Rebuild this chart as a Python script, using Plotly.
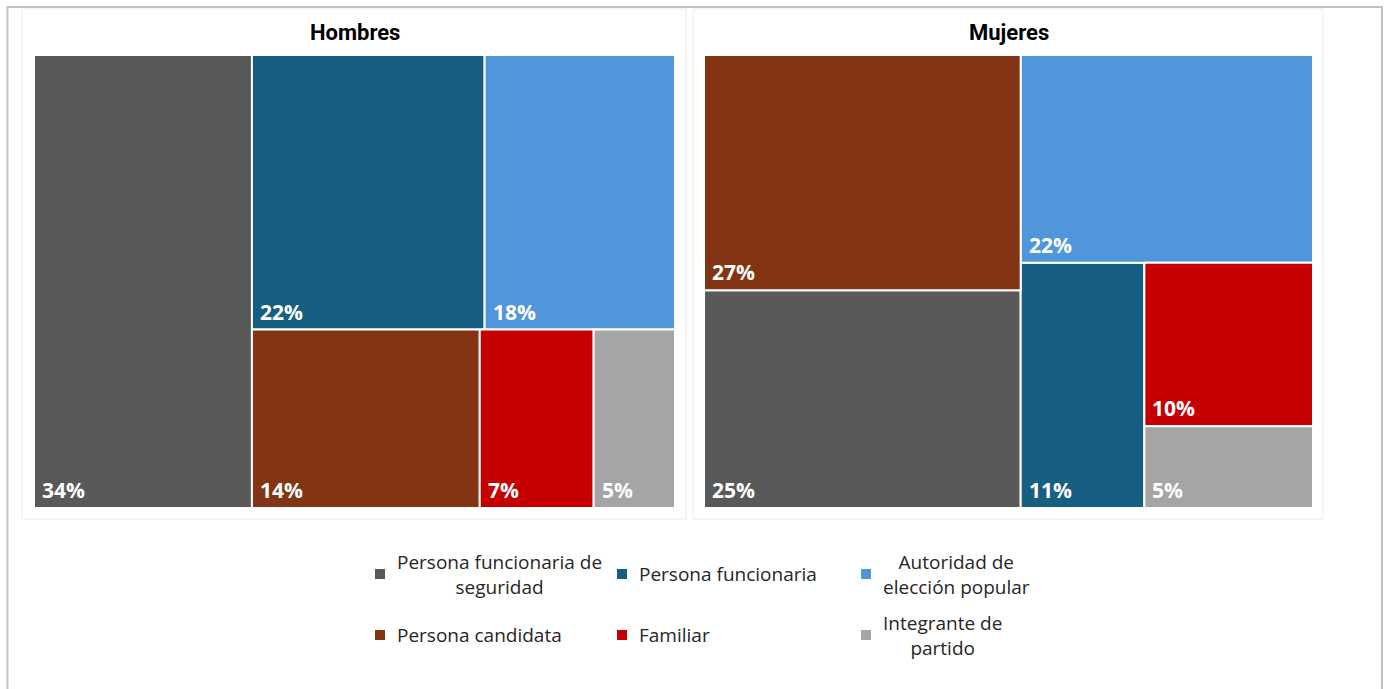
import plotly.graph_objects as go

W_PX, H_PX = 1384, 689

# ---------------- data ----------------
categorias = ["Persona funcionaria de seguridad", "Persona funcionaria",
              "Autoridad de elección popular", "Persona candidata",
              "Familiar", "Integrante de partido"]
etiquetas_leyenda = ["Persona funcionaria de<br>seguridad", "Persona funcionaria",
                     "Autoridad de<br>elección popular", "Persona candidata",
                     "Familiar", "Integrante de<br>partido"]
colores = ["#595959", "#175E83", "#4F96DA", "#833412", "#C60000", "#A5A5A5"]

hombres = [34, 22, 18, 14, 7, 5]
mujeres = [25, 11, 22, 27, 10, 5]

paneles = ["Hombres", "Mujeres"]


def px_x(p):
    return p / W_PX


def px_y(p):
    return 1 - p / H_PX


# squarified treemap (rows along the shorter side), y grows downward
def worst(row, side, total, area):
    s = sum(row)
    rw = s / total * area / side
    ratios = []
    for v in row:
        l = v / s * side
        ratios.append(max(rw / l, l / rw))
    return max(ratios)


def squarify(vals, idx, x, y, w, h):
    rects = {}
    items = sorted(zip(vals, idx), key=lambda t: -t[0])
    total = sum(vals)
    while items:
        side = min(w, h)
        area = w * h
        row = [items[0]]
        i = 1
        while i < len(items):
            cand = row + [items[i]]
            if worst([v for v, _ in cand], side, total, area) > worst([v for v, _ in row], side, total, area):
                break
            row = cand
            i += 1
        s = sum(v for v, _ in row)
        if w >= h:
            cw = w * s / total
            yy = y
            for v, k in row:
                hh = h * v / s
                rects[k] = (x, yy, x + cw, yy + hh)
                yy += hh
            x += cw
            w -= cw
        else:
            rh = h * s / total
            xx = x
            for v, k in row:
                ww = w * v / s
                rects[k] = (xx, y, xx + ww, y + rh)
                xx += ww
            y += rh
            h -= rh
        total -= s
        items = items[i:]
    return rects


ASPECTO = 1.45
fig = go.Figure()

dominios_x = [(34, 675), (704, 1313)]

for p, (nombre, vals) in enumerate(zip(paneles, [hombres, mujeres])):
    ax = "" if p == 0 else "2"
    rects = squarify(vals, list(range(len(vals))), 0, 0, ASPECTO, 1)
    for k in range(len(categorias)):
        x0, y0, x1, y1 = rects[k]
        fig.add_trace(go.Scatter(
            x=[x0, x1, x1, x0, x0], y=[y0, y0, y1, y1, y0],
            mode="lines", fill="toself", fillcolor=colores[k],
            line=dict(color="white", width=2),
            name=categorias[k], showlegend=False, hoveron="fills",
            text=f"{categorias[k]}: {vals[k]}%", hoverinfo="text",
            xaxis="x" + ax, yaxis="y" + ax))
        fig.add_annotation(
            x=x0, y=y1, xref="x" + ax, yref="y" + ax,
            text=f"{vals[k]}%", showarrow=False, xanchor="left", yanchor="bottom",
            xshift=6, yshift=2,
            font=dict(family="Open Sans", size=21, color="white", weight="bold"))
    # panel title
    cx = (dominios_x[p][0] + dominios_x[p][1]) / 2
    fig.add_annotation(
        x=px_x(cx), y=px_y(32), xref="paper", yref="paper", text=nombre,
        showarrow=False, xanchor="center", yanchor="middle",
        font=dict(family="Roboto", size=22, color="#000000", weight="bold"))

axis_common = dict(showgrid=False, zeroline=False, showticklabels=False, showline=False, fixedrange=True)
fig.update_layout(
    xaxis=dict(domain=[px_x(34), px_x(675)], range=[0, ASPECTO], **axis_common),
    yaxis=dict(domain=[px_y(508), px_y(55)], range=[1, 0], **axis_common),
    xaxis2=dict(domain=[px_x(704), px_x(1313)], range=[0, ASPECTO], anchor="y2", **axis_common),
    yaxis2=dict(domain=[px_y(508), px_y(55)], range=[1, 0], anchor="x2", **axis_common),
)

shapes = []
# outer border and panel frames
shapes.append(dict(type="rect", xref="paper", yref="paper",
                   x0=px_x(7.5), x1=px_x(1382), y0=px_y(720), y1=px_y(7),
                   line=dict(color="#BFBFBF", width=2), fillcolor="rgba(0,0,0,0)"))
for (a, b) in [(22, 686), (693, 1323)]:
    shapes.append(dict(type="rect", xref="paper", yref="paper",
                       x0=px_x(a), x1=px_x(b), y0=px_y(519), y1=px_y(9),
                       line=dict(color="#E8E8E8", width=1), fillcolor="rgba(0,0,0,0)"))

# legend (3 columns x 2 rows)
leg_x = [380, 622, 866]
leg_y = [574, 635]
for i, lab in enumerate(etiquetas_leyenda):
    cx = leg_x[i % 3]
    cy = leg_y[i // 3]
    shapes.append(dict(type="rect", xref="paper", yref="paper",
                       x0=px_x(cx - 5), x1=px_x(cx + 5), y0=px_y(cy + 5), y1=px_y(cy - 5),
                       line=dict(width=0), fillcolor=colores[i]))
    fig.add_annotation(
        x=px_x(cx + 15), y=px_y(cy), xref="paper", yref="paper", text=lab,
        showarrow=False, xanchor="left", yanchor="middle", align="center",
        font=dict(family="Open Sans", size=19, color="#262626"))

fig.update_layout(
    shapes=shapes,
    width=W_PX, height=H_PX,
    margin=dict(l=0, r=0, t=0, b=0),
    paper_bgcolor="white", plot_bgcolor="white",
    showlegend=False,
)

fig.write_html("out.html", config={"displayModeBar": False},
               post_script="document.body.style.margin='0';document.body.style.overflow='hidden';")
